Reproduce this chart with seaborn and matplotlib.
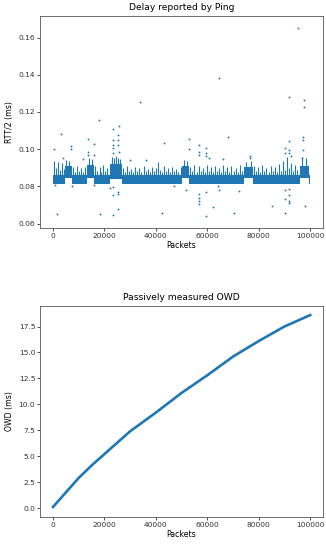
import matplotlib
matplotlib.use('Agg')
import matplotlib.pyplot as plt
import pandas as pd
import seaborn as sns

plt.rcParams['font.family'] = ['DejaVu Sans']
plt.rcParams['axes.linewidth'] = 0.6
plt.rcParams['xtick.major.width'] = 0.6
plt.rcParams['ytick.major.width'] = 0.6
plt.rcParams['xtick.major.size'] = 2
plt.rcParams['ytick.major.size'] = 2

blue = '#1f77b4'

# --- ping RTT/2: base band level per segment (step edges, packets) ---
band_edges = [0, 4700, 7300, 13300, 16000, 22200, 26700, 50300, 52900,
              74400, 77700, 96000, 99700, 100000]
band_lo = [0.0813, 0.0845, 0.0813, 0.0845, 0.0813, 0.0838, 0.0813,
           0.0845, 0.0813, 0.0843, 0.0813, 0.0843, 0.0813]
band_hi = [0.0862, 0.0912, 0.0862, 0.0915, 0.0862, 0.0918, 0.0862,
           0.0910, 0.0862, 0.0905, 0.0862, 0.0910, 0.0862]

# short bursts sticking out of the band (one line per segment)
spike_x = [400, 1200, 1900, 2700, 3500, 4200,
           7800, 8600, 9300, 10100, 10900, 11600, 12400,
           16500, 17300, 18100, 18800, 19600, 20400, 21200,
           27200, 28000, 28800, 29600, 30400, 31200, 32000, 32800, 33600,
           34400, 35200, 36000, 36800, 37600, 38400, 39200, 40000, 40800,
           41600, 42400, 43200, 44000, 44800, 45600, 46400, 47200, 48000,
           48800, 49600,
           53400, 54200, 55000, 55800, 56600, 57400, 58200, 59000, 59800,
           60600, 61400, 62200, 63000, 63800, 64600, 65400, 66200, 67000,
           67800, 68600, 69400, 70200, 71000, 71800, 72600, 73400,
           78200, 79000, 79800, 80600, 81400, 82200, 83000, 83800, 84600,
           85400, 86200, 87000, 87800, 88600, 89400, 90200, 91000, 91800,
           92600, 93400, 94200, 95000,
           5200, 6400, 14000, 15200, 22800, 23600, 24500, 25300, 26100,
           51000, 52200, 75000, 76800, 96800, 98500]
spike_top = [0.0935, 0.0900, 0.0930, 0.0890, 0.0925, 0.0895,
             0.0905, 0.0880, 0.0910, 0.0885, 0.0900, 0.0880, 0.0905,
             0.0910, 0.0885, 0.0905, 0.0880, 0.0915, 0.0885, 0.0900,
             0.0900, 0.0880, 0.0910, 0.0885, 0.0895, 0.0880, 0.0905, 0.0885,
             0.0900, 0.0880, 0.0910, 0.0885, 0.0895, 0.0880, 0.0905, 0.0885,
             0.0900, 0.0930, 0.0890, 0.0880, 0.0910, 0.0885, 0.0900, 0.0880,
             0.0905, 0.0885, 0.0895, 0.0880, 0.0905,
             0.0905, 0.0885, 0.0915, 0.0880, 0.0910, 0.0885, 0.0900, 0.0880,
             0.0915, 0.0885, 0.0905, 0.0880, 0.0910, 0.0885, 0.0900, 0.0880,
             0.0915, 0.0885, 0.0905, 0.0880, 0.0910, 0.0885, 0.0900, 0.0880,
             0.0915, 0.0885,
             0.0910, 0.0885, 0.0905, 0.0880, 0.0915, 0.0885, 0.0900, 0.0880,
             0.0910, 0.0885, 0.0905, 0.0880, 0.0920, 0.0885, 0.0935, 0.0890,
             0.0960, 0.0900, 0.0925, 0.0885, 0.0915, 0.0890,
             0.0940, 0.0935, 0.0950, 0.0945, 0.0960, 0.0950, 0.0965, 0.0955,
             0.0945, 0.0940, 0.0935, 0.0930, 0.0935, 0.0960, 0.0955]

# isolated samples away from the band
out_x = [500, 1500, 3200, 6850, 6850, 13700, 13700, 13700, 15760, 15760,
         15760, 17830, 18480, 23380, 23380, 23380, 23380, 23380, 23380,
         23380, 23380, 25840, 25450, 25450, 25450, 25700, 25450, 25450,
         25450, 33840, 42500, 43020, 51550, 52700, 52700, 56590, 56590,
         56590, 56590, 56590, 56590, 56590, 59300, 59300, 59300, 59300,
         59300, 62130, 64460, 64730, 68200, 70540, 72480, 76630, 76630,
         85140, 90310, 90310, 90310, 90310, 90310, 91740, 91860, 91860,
         91860, 91860, 91860, 91860, 91860, 95080, 97290, 97290, 97290,
         97550, 97550, 98060, 4000, 11500, 30000, 36000, 60500, 66000,
         92500, 97000, 700, 7500, 22000, 47000, 64000]
out_y = [0.1002, 0.0649, 0.1081, 0.1016, 0.1002, 0.1056, 0.0985, 0.0971,
         0.1027, 0.0971, 0.0805, 0.1158, 0.0649, 0.1106, 0.1049, 0.1022,
         0.1004, 0.0977, 0.0796, 0.0751, 0.0647, 0.1123, 0.1076, 0.1049,
         0.1022, 0.0985, 0.0769, 0.0760, 0.0679, 0.1252, 0.0656, 0.1031,
         0.0778, 0.1056, 0.0999, 0.1022, 0.0985, 0.0968, 0.0760, 0.0739,
         0.0724, 0.0706, 0.1009, 0.0980, 0.0962, 0.0769, 0.0640, 0.0688,
         0.1385, 0.0778, 0.1067, 0.0656, 0.0775, 0.0964, 0.0950, 0.0697,
         0.1004, 0.0977, 0.0778, 0.0734, 0.0656, 0.1280, 0.1045, 0.0995,
         0.0977, 0.0788, 0.0751, 0.0724, 0.0710, 0.1649, 0.1063, 0.1052,
         0.0998, 0.1267, 0.1229, 0.0697, 0.0950, 0.0945, 0.0942, 0.0940,
         0.0950, 0.0945, 0.0962, 0.0955, 0.0805, 0.0800, 0.0790, 0.0800,
         0.0800]

# --- passively measured OWD ---
owd_x = [0, 5000, 10000, 15000, 20000, 25000, 30000, 35000, 40000, 45000,
         50000, 55000, 60000, 65000, 70000, 75000, 80000, 85000, 90000,
         95000, 100000]
owd_y = [0.1, 1.5, 2.9, 4.1, 5.2, 6.3, 7.4, 8.3, 9.2, 10.15, 11.1, 11.95,
         12.8, 13.7, 14.6, 15.35, 16.1, 16.8, 17.5, 18.05, 18.6]

outliers = pd.DataFrame({'packet': out_x, 'rtt': out_y})
owd = pd.DataFrame({'packet': owd_x, 'owd': owd_y})

fig = plt.figure(figsize=(3.26, 5.46), dpi=100)
ax1 = fig.add_axes([0.123, 0.582, 0.868, 0.389])
ax2 = fig.add_axes([0.123, 0.053, 0.868, 0.387])

ax1.fill_between(band_edges, band_lo + [band_lo[-1]], band_hi + [band_hi[-1]],
                 step='post', color=blue, linewidth=0)
ax1.vlines(spike_x, 0.0852, spike_top, color=blue, linewidth=0.8)
sns.scatterplot(data=outliers, x='packet', y='rtt', ax=ax1, color=blue,
                s=1.8, linewidth=0, marker='o')
ax1.set_xlim(-5000, 105000)
ax1.set_ylim(0.0575, 0.1717)
ax1.set_yticks([0.06, 0.08, 0.10, 0.12, 0.14, 0.16])
ax1.set_title('Delay reported by Ping', fontsize=6.6, pad=4)
ax1.set_xlabel('Packets', fontsize=5.6, labelpad=1.5)
ax1.set_ylabel('RTT/2 (ms)', fontsize=5.6, labelpad=3)

sns.lineplot(data=owd, x='packet', y='owd', ax=ax2, color=blue, linewidth=1.9)
ax2.set_xlim(-5000, 105000)
ax2.set_ylim(-0.87, 19.5)
ax2.set_yticks([0, 2.5, 5, 7.5, 10, 12.5, 15, 17.5])
ax2.set_title('Passively measured OWD', fontsize=6.6, pad=4)
ax2.set_xlabel('Packets', fontsize=5.6, labelpad=1.5)
ax2.set_ylabel('OWD (ms)', fontsize=5.6, labelpad=3)

for ax in (ax1, ax2):
    ax.set_xticks([0, 20000, 40000, 60000, 80000, 100000])
    ax.tick_params(labelsize=5.4, pad=1.5, colors='#333333')
    for sp in ax.spines.values():
        sp.set_color('#555555')
ax2.set_yticklabels(['0.0', '2.5', '5.0', '7.5', '10.0', '12.5', '15.0', '17.5'])
ax1.set_yticklabels(['0.06', '0.08', '0.10', '0.12', '0.14', '0.16'])

fig.savefig('out.png', dpi=100)
